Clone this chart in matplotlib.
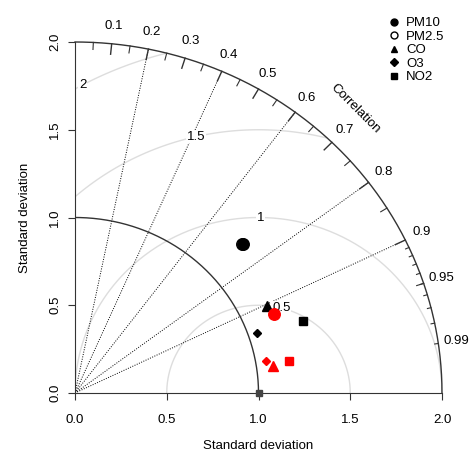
import numpy as np
import matplotlib
matplotlib.use('Agg')
import matplotlib.pyplot as plt
from matplotlib.lines import Line2D

plt.rcParams['font.family'] = ['Liberation Sans', 'DejaVu Sans']

# Taylor diagram values (standard deviation, correlation)
pollutants = ['PM10', 'PM2.5', 'CO', 'O3', 'NO2']
markers = ['o', 'o', '^', 'D', 's']
filled = [True, False, True, True, True]
sd_black = [1.248, 1.245, 1.159, 1.052, 1.307]
cor_black = [0.734, 0.731, 0.904, 0.945, 0.949]
sd_red = [1.175, None, 1.090, 1.057, 1.183]
cor_red = [0.923, None, 0.990, 0.985, 0.988]

ref_sd = 1.0
max_sd = 2.0
rms_levels = [0.5, 1.0, 1.5, 2.0]
rms_label_idx = [45, 53, 61, 70]
corr_lines = [0.2, 0.4, 0.6, 0.8, 0.9]
corr_labels = [0.1, 0.2, 0.3, 0.4, 0.5, 0.6, 0.7, 0.8, 0.9, 0.95, 0.99]
sd_ticks = [0.0, 0.5, 1.0, 1.5, 2.0]

dark = '#333333'
fs = 9.5

fig = plt.figure(figsize=(4.75, 4.55), dpi=100)
ax = fig.add_axes([75 / 475, 62 / 455, 367 / 475, 351 / 455])
ax.set_xlim(0, max_sd)
ax.set_ylim(0, max_sd)

# centred RMS arcs around the reference point
for lev, li in zip(rms_levels, rms_label_idx):
    t = np.linspace(0, np.pi, 400)
    xc = np.cos(t) * lev + ref_sd
    yc = np.sin(t) * lev
    ok = (xc >= 0) & (xc ** 2 + yc ** 2 <= max_sd ** 2)
    ax.plot(xc[ok], yc[ok], color='#dddddd', lw=1, zorder=1)
    tl = (li - 1) * 0.03
    lab = '%g' % lev
    ax.text(np.cos(tl) * lev + ref_sd, np.sin(tl) * lev, lab, fontsize=fs,
            ha='center', va='center', zorder=3,
            bbox=dict(facecolor='white', edgecolor='none', pad=0.5))

# correlation rays
for c in corr_lines:
    ax.plot([0, max_sd * c], [0, max_sd * np.sqrt(1 - c ** 2)], color='black',
            ls=(0, (1, 1.5)), lw=0.7, zorder=2)

# outer arc and reference sd arc
t = np.linspace(0, np.pi / 2, 300)
ax.plot(np.cos(t) * max_sd, np.sin(t) * max_sd, color=dark, lw=1, clip_on=False, zorder=2)
ax.plot(np.cos(t) * ref_sd, np.sin(t) * ref_sd, color=dark, lw=1, zorder=2)

# correlation ticks
for c in np.arange(0.1, 0.91, 0.1):
    a = np.arccos(c)
    ax.plot([np.cos(a) * max_sd, np.cos(a) * 0.97 * max_sd],
            [np.sin(a) * max_sd, np.sin(a) * 0.97 * max_sd], color=dark, lw=1, clip_on=False)
for c in np.arange(0.05, 0.96, 0.1):
    a = np.arccos(c)
    ax.plot([np.cos(a) * max_sd, np.cos(a) * 0.98 * max_sd],
            [np.sin(a) * max_sd, np.sin(a) * 0.98 * max_sd], color=dark, lw=0.8, clip_on=False)
for c in np.arange(0.91, 0.995, 0.01):
    a = np.arccos(c)
    ax.plot([np.cos(a) * max_sd, np.cos(a) * 0.99 * max_sd],
            [np.sin(a) * max_sd, np.sin(a) * 0.99 * max_sd], color=dark, lw=0.8, clip_on=False)
for c in corr_labels:
    a = np.arccos(c)
    ax.text(np.cos(a) * 1.05 * max_sd, np.sin(a) * 1.05 * max_sd, '%g' % c,
            fontsize=fs, ha='center', va='center', clip_on=False)
ax.text(1.53, 1.62, 'Correlation', rotation=-45, fontsize=fs,
        ha='center', va='center')

# reference point
ax.plot([ref_sd], [0], marker='s', ms=5, color='#444444', clip_on=False, zorder=4)

sizes = {'o': 8.3, '^': 7, 'D': 4.5, 's': 6.3}


def draw(sds, cors, col):
    for sd, cr, m, f in zip(sds, cors, markers, filled):
        if sd is None:
            continue
        ax.plot([sd * cr], [sd * np.sqrt(1 - cr ** 2)], marker=m, ms=sizes[m],
                mfc=col if f else 'none', mec=col, mew=1, ls='none', zorder=5)


draw(sd_black, cor_black, 'black')
draw(sd_red, cor_red, 'red')

# axes
for s in ['top', 'right']:
    ax.spines[s].set_visible(False)
for s in ['left', 'bottom']:
    ax.spines[s].set_color(dark)
ax.set_xticks(sd_ticks)
ax.set_yticks(sd_ticks)
ax.set_xticklabels(['%.1f' % v for v in sd_ticks], fontsize=fs)
ax.set_yticklabels(['%.1f' % v for v in sd_ticks], fontsize=fs, rotation=90, va='center')
ax.tick_params(direction='out', length=5, color=dark)
ax.tick_params(axis='x', pad=10)
ax.tick_params(axis='y', pad=5)
ax.set_xlabel('Standard deviation', fontsize=fs, labelpad=10)
ax.set_ylabel('Standard deviation', fontsize=fs, labelpad=13)

handles = [Line2D([], [], marker=m, ls='none', color='black', ms=(5 if m == 'o' else 4),
                  mfc='black' if f else 'none', mec='black')
           for m, f in zip(markers, filled)]
fig.legend(handles, pollutants, loc='upper left', bbox_to_anchor=(389 / 475, 1 - 17 / 455),
           frameon=False, fontsize=fs, handlelength=0.8, handletextpad=0.5,
           labelspacing=0.1, borderaxespad=0, borderpad=0)

fig.savefig('out.png', dpi=100)
